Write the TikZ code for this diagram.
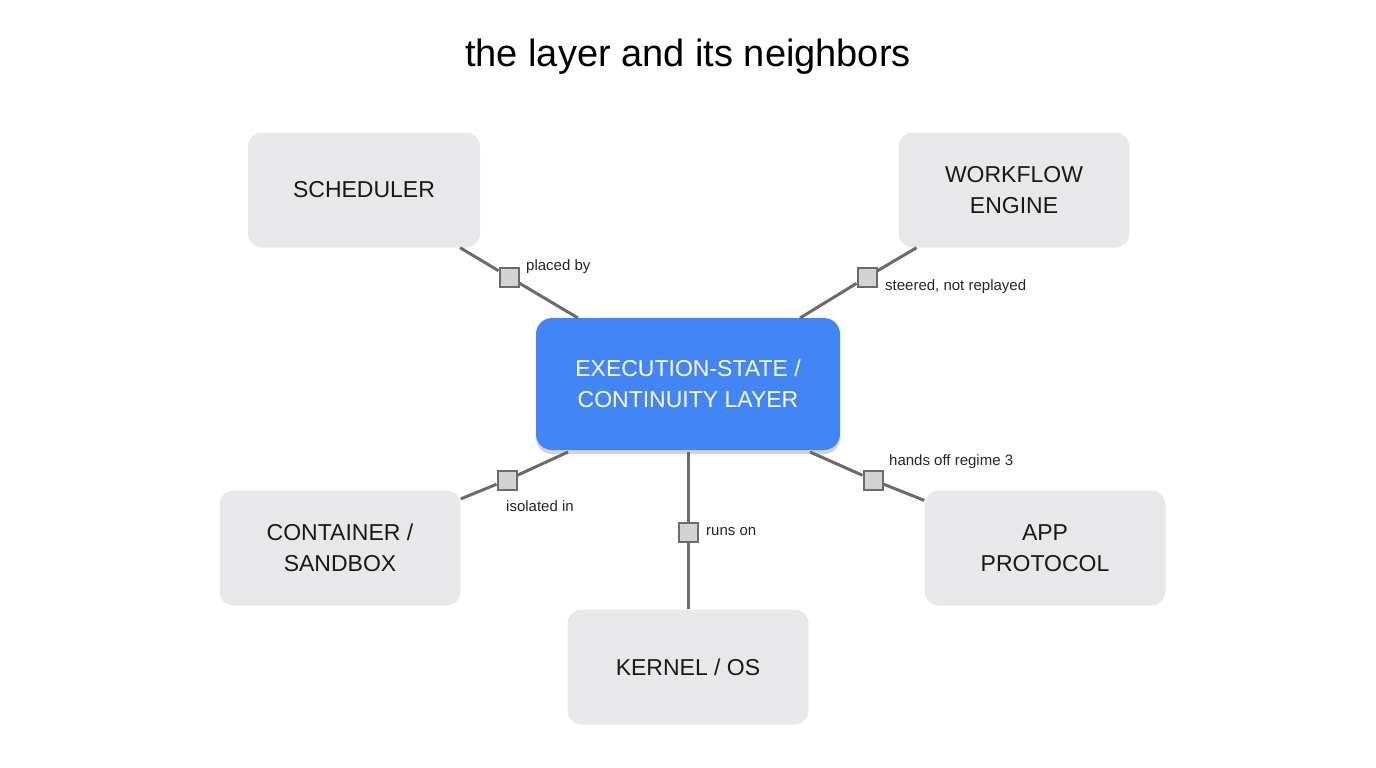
\documentclass[tikz,border=0pt]{standalone}
\usepackage{fontspec}
\setmainfont{Liberation Sans}
\usetikzlibrary{shadows,calc}
\definecolor{boxg}{HTML}{E8E8EA}
\definecolor{lineg}{HTML}{6B6B6B}
\definecolor{blu}{HTML}{4285F4}
\tikzset{
 nb/.style={fill=boxg, rounded corners=14pt, minimum width=232pt, minimum height=115pt, align=center, font=\fontsize{23}{31}\selectfont, text=black!90},
 cb/.style={fill=blu, rounded corners=16pt, minimum width=304pt, minimum height=132pt, align=center, font=\fontsize{23}{31}\selectfont, text=white, drop shadow={shadow xshift=0pt, shadow yshift=-4pt, opacity=0.35}},
 sq/.style={draw=lineg, line width=2pt, fill=boxg!80!gray, minimum size=19pt, inner sep=0pt},
 conn/.style={draw=lineg, line width=3pt},
 lab/.style={font=\fontsize{15}{18}\selectfont, text=black!85, anchor=west, inner sep=0pt}
}
\begin{document}
\begin{tikzpicture}[x=1pt,y=-1pt]
\useasboundingbox (0,0) rectangle (1376,768);
\node[font=\fontsize{38}{44}\selectfont] (title) at (688,57) {the layer and its neighbors};
\node[nb] (sch) at (364,190) {SCHEDULER};
\node[nb, minimum width=231pt] (wf) at (1014,190) {WORKFLOW\\ENGINE};
\node[nb, minimum width=241pt] (ct) at (340,548) {CONTAINER /\\SANDBOX};
\node[nb, minimum width=241pt] (kr) at (688,667) {KERNEL / OS};
\node[nb, minimum width=241pt] (ap) at (1045,548) {APP\\PROTOCOL};
\node[sq] (s1) at (509,277) {};
\node[sq] (s2) at (867,277) {};
\node[sq] (s3) at (507,480) {};
\node[sq] (s4) at (688,532) {};
\node[sq] (s5) at (873,480) {};
\draw[conn] (sch) -- (s1);
\draw[conn] (wf) -- (s2);
\draw[conn] (ct) -- (s3);
\draw[conn] (kr) -- (s4);
\draw[conn] (ap) -- (s5);
\node[cb] (c) at (688,384) {EXECUTION-STATE /\\CONTINUITY LAYER};
\draw[conn] (s1) -- (578,318);
\draw[conn] (s2) -- (800,318);
\draw[conn] (s3) -- (568,452);
\draw[conn] (s4) -- (688,452);
\draw[conn] (s5) -- (810,452);
\node[sq] at (s1) {};\node[sq] at (s2) {};\node[sq] at (s3) {};\node[sq] at (s4) {};\node[sq] at (s5) {};
\node[lab] (l1) at (526,267) {placed by};
\node[lab] (l2) at (885,287) {steered, not replayed};
\node[lab] (l3) at (506,506) {isolated in};
\node[lab] (l4) at (706,532) {runs on};
\node[lab] (l5) at (889,462) {hands off regime 3};
\end{tikzpicture}
\end{document}
